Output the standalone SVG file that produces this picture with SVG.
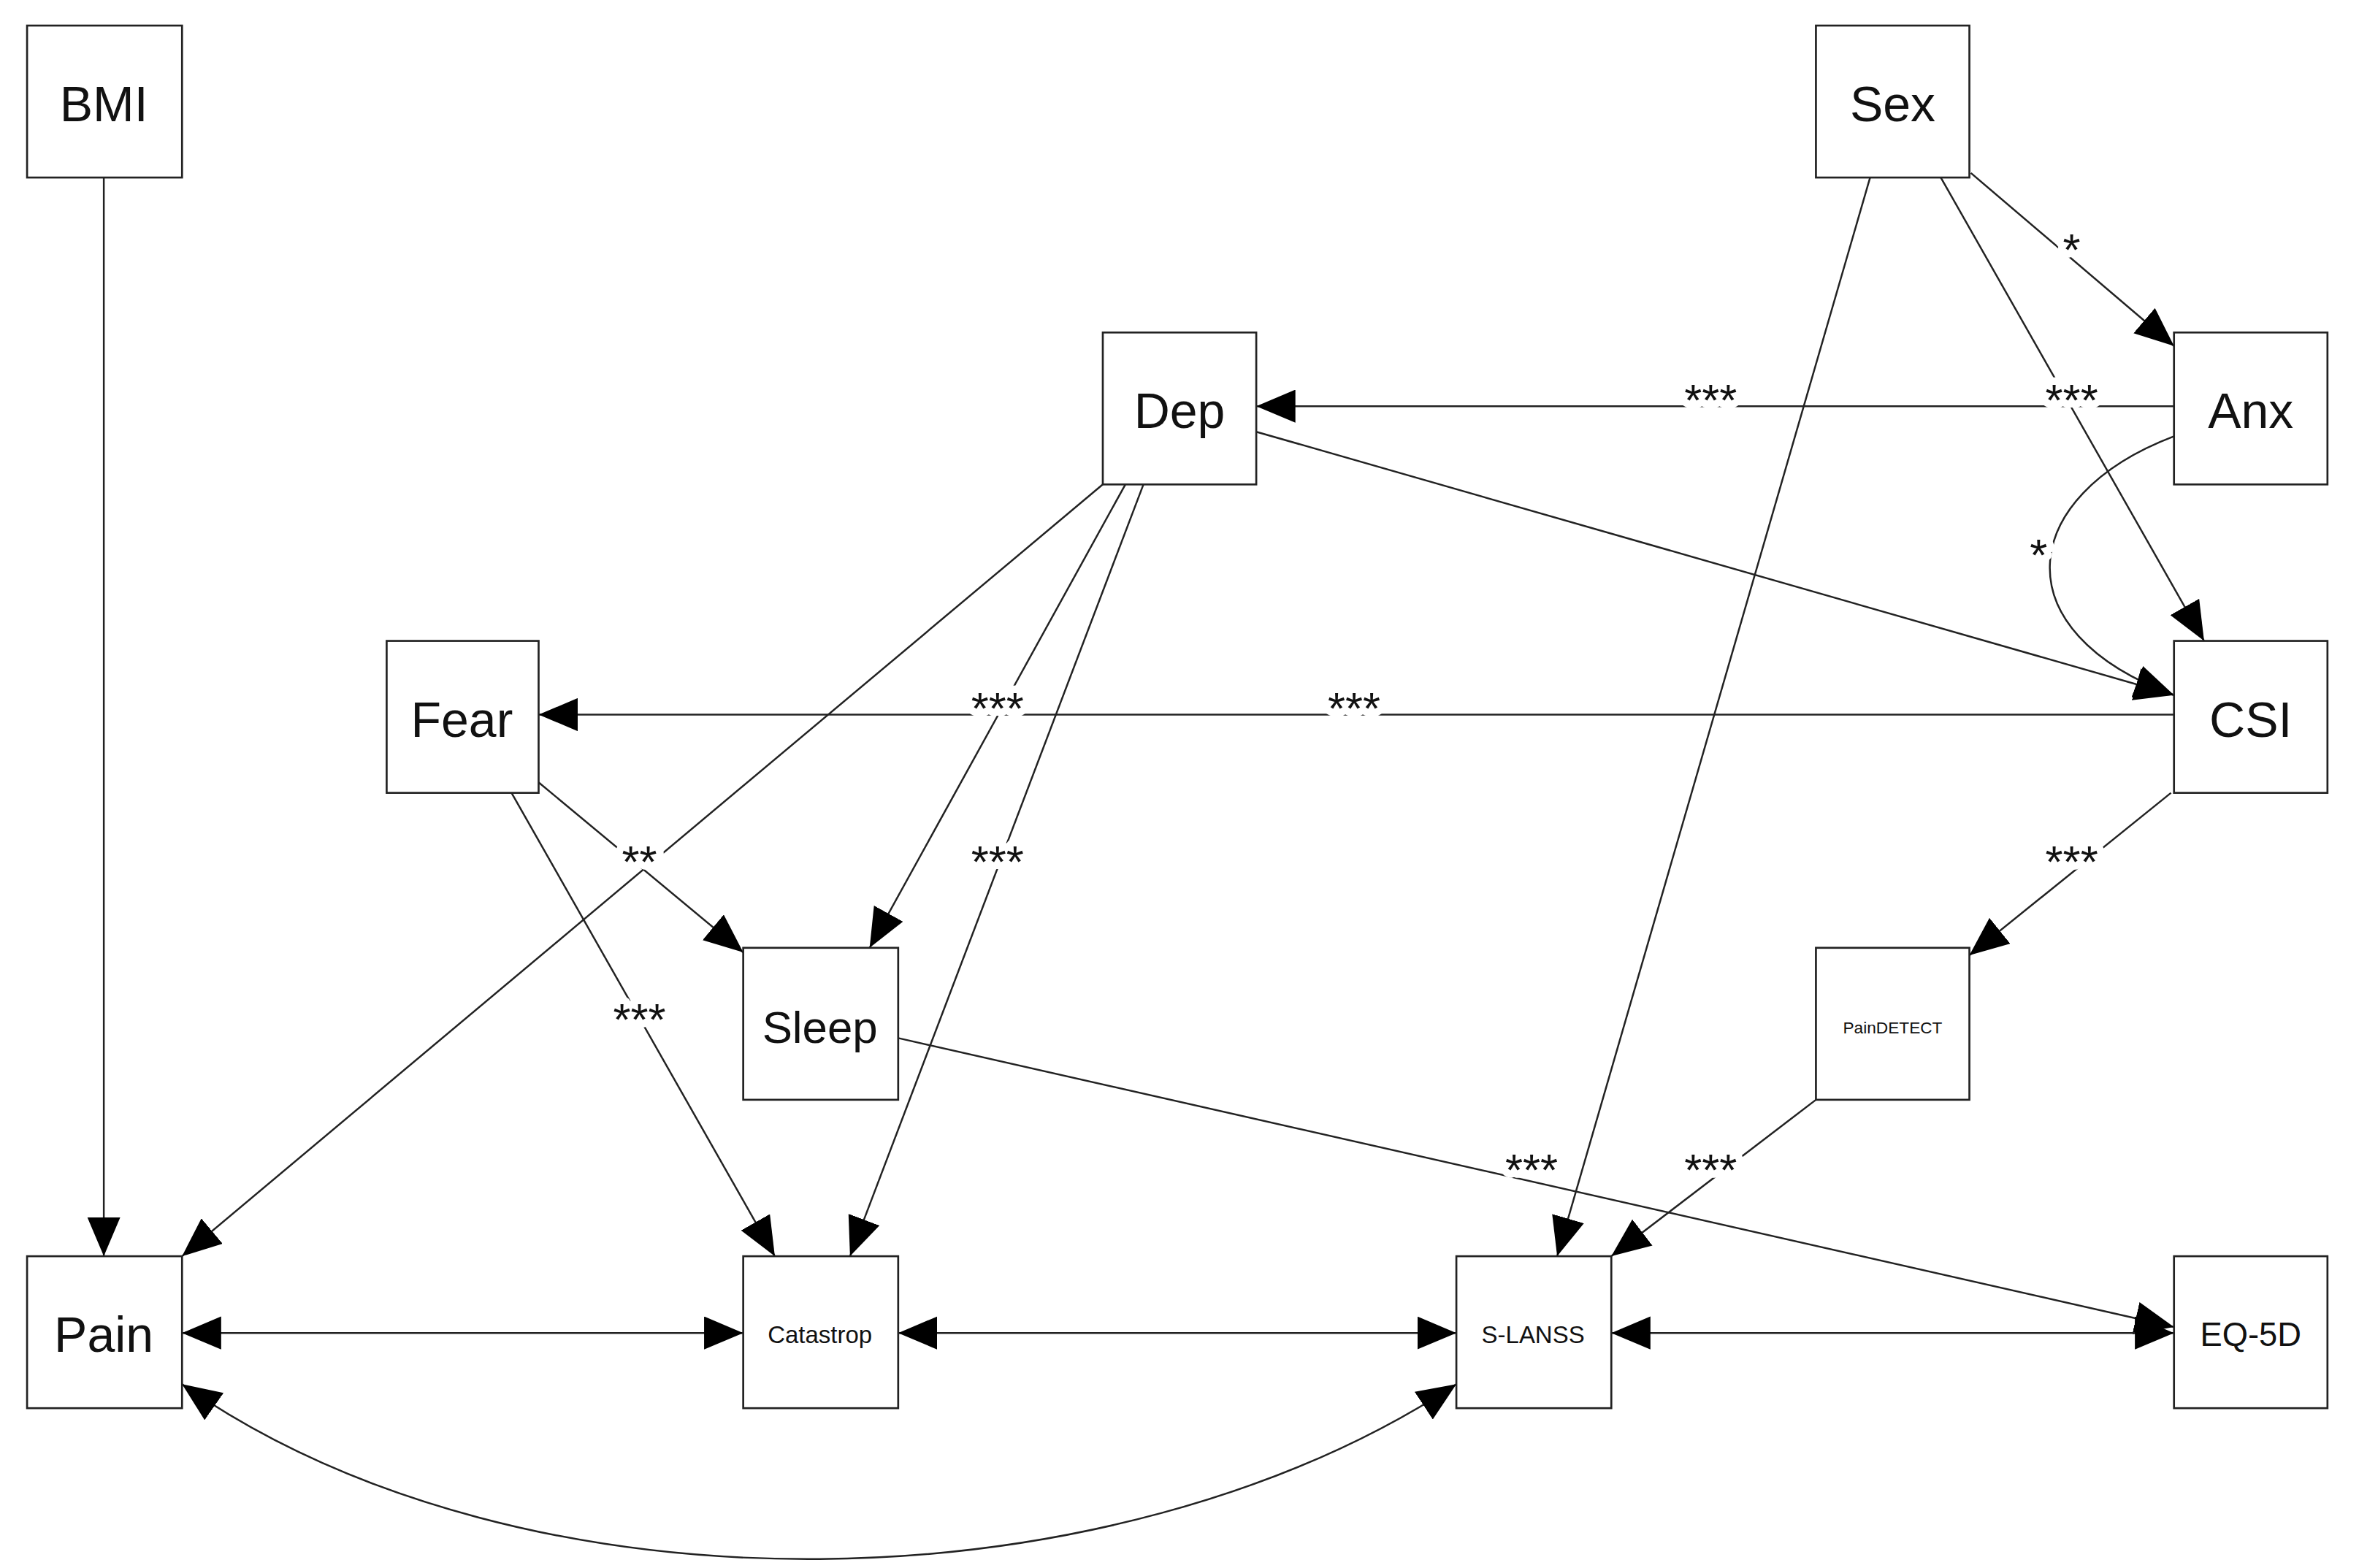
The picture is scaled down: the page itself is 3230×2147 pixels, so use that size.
<svg xmlns="http://www.w3.org/2000/svg" width="3230" height="2147" viewBox="0 0 3230 2147">
<style>
.box{fill:#fff;stroke:#222;stroke-width:1.3}
.t{font-family:"Liberation Sans",Arial,sans-serif;fill:#111;text-anchor:middle;dominant-baseline:central}
.big{font-size:33px}
.mid{font-size:16px}
.sm{font-size:11px}
.e{fill:none;stroke:#222;stroke-width:1.2}
.lab{font-family:"Liberation Sans",Arial,sans-serif;font-size:30px;fill:#111;text-anchor:middle;stroke:#fff;stroke-width:10;paint-order:stroke;stroke-linejoin:round}
</style>
<defs>
<marker id="a" markerUnits="userSpaceOnUse" markerWidth="28" markerHeight="22" refX="26" refY="11" orient="auto-start-reverse" viewBox="0 0 28 22"><path d="M0,0 L26,11 L0,22 Z" fill="#000"/></marker>
</defs>
<rect width="3230" height="2147" fill="#fff"/>
<g transform="scale(2.06)">
<g id="connectors">
<path class="e" marker-end="url(#a)" d="M69,118 L69,835"/>
<path class="e" marker-end="url(#a)" d="M1310,115 L1445,230"/>
<path class="e" marker-end="url(#a)" d="M1290,118 L1465,426"/>
<path class="e" marker-end="url(#a)" d="M1243,118 L1035,835"/>
<path class="e" marker-end="url(#a)" d="M1445,270 L835,270"/>
<path class="e" marker-end="url(#a)" d="M1445,290 C1340,330 1330,420 1445,462"/>
<path class="e" marker-end="url(#a)" d="M835,287 L1445,462"/>
<path class="e" marker-end="url(#a)" d="M1445,475 L358,475"/>
<path class="e" marker-end="url(#a)" d="M733,322 L121,835"/>
<path class="e" marker-end="url(#a)" d="M748,322 L578,630"/>
<path class="e" marker-end="url(#a)" d="M760,322 L565,835"/>
<path class="e" marker-end="url(#a)" d="M358,520 L494,633"/>
<path class="e" marker-end="url(#a)" d="M340,527 L515,835"/>
<path class="e" marker-end="url(#a)" d="M1443,527 L1309,635"/>
<path class="e" marker-end="url(#a)" d="M597,690 L1445,882"/>
<path class="e" marker-end="url(#a)" d="M1207,731 L1071,835"/>
<path class="e" marker-start="url(#a)" marker-end="url(#a)" d="M121,886 L494,886"/>
<path class="e" marker-start="url(#a)" marker-end="url(#a)" d="M597,886 L968,886"/>
<path class="e" marker-start="url(#a)" marker-end="url(#a)" d="M1071,886 L1445,886"/>
<path class="e" marker-start="url(#a)" marker-end="url(#a)" d="M121,920 C350,1080 740,1070 968,920"/>
<text class="lab" x="1377" y="176">*</text>
<text class="lab" x="1377" y="276">***</text>
<text class="lab" x="1137" y="276">***</text>
<text class="lab" x="1355" y="379">*</text>
<text class="lab" x="663" y="481">***</text>
<text class="lab" x="900" y="481">***</text>
<text class="lab" x="425" y="583">**</text>
<text class="lab" x="663" y="583">***</text>
<text class="lab" x="425" y="688">***</text>
<text class="lab" x="1377" y="583">***</text>
<text class="lab" x="1018" y="788">***</text>
<text class="lab" x="1137" y="788">***</text>
</g>
<g id="BMI"><rect class="box" x="18" y="17" width="103" height="101"/><text class="t big" x="69" y="69">BMI</text></g>
<g id="Sex"><rect class="box" x="1207" y="17" width="102" height="101"/><text class="t big" x="1258" y="69">Sex</text></g>
<g id="Dep"><rect class="box" x="733" y="221" width="102" height="101"/><text class="t big" x="784" y="273">Dep</text></g>
<g id="Anx"><rect class="box" x="1445" y="221" width="102" height="101"/><text class="t big" x="1496" y="273">Anx</text></g>
<g id="Fear"><rect class="box" x="257" y="426" width="101" height="101"/><text class="t big" x="307" y="478">Fear</text></g>
<g id="CSI"><rect class="box" x="1445" y="426" width="102" height="101"/><text class="t big" x="1496" y="478">CSI</text></g>
<g id="Sleep"><rect class="box" x="494" y="630" width="103" height="101"/><text class="t" style="font-size:30px" x="545" y="683">Sleep</text></g>
<g id="PainDETECT"><rect class="box" x="1207" y="630" width="102" height="101"/><text class="t sm" x="1258" y="683">PainDETECT</text></g>
<g id="Pain"><rect class="box" x="18" y="835" width="103" height="101"/><text class="t big" x="69" y="887">Pain</text></g>
<g id="Catastrop"><rect class="box" x="494" y="835" width="103" height="101"/><text class="t mid" x="545" y="887">Catastrop</text></g>
<g id="S-LANSS"><rect class="box" x="968" y="835" width="103" height="101"/><text class="t mid" x="1019" y="887">S-LANSS</text></g>
<g id="EQ-5D"><rect class="box" x="1445" y="835" width="102" height="101"/><text class="t" style="font-size:22px" x="1496" y="887">EQ-5D</text></g>
</g>
</svg>
